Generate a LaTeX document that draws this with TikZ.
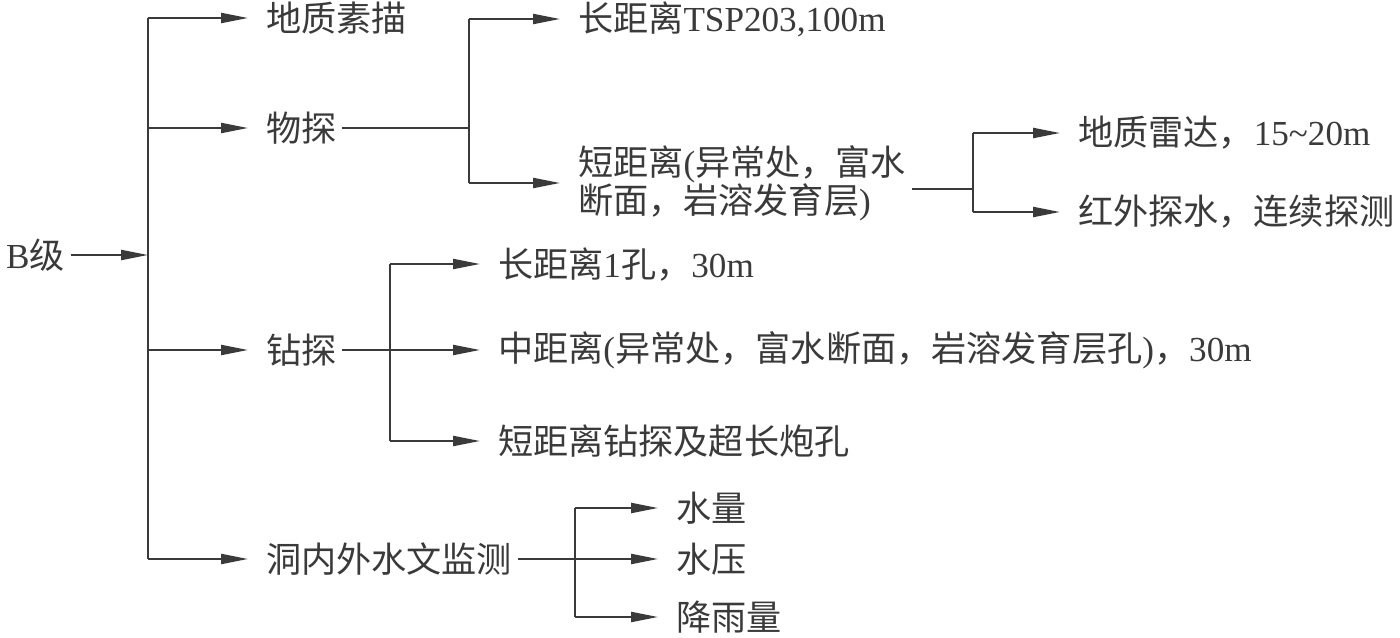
\documentclass[tikz,border=0pt]{standalone}
\usepackage{fontspec}
\setmainfont{Liberation Serif}
\newfontfamily\cjk{Noto Sans CJK SC}
\usepackage{tikz}
\usetikzlibrary{arrows.meta}
\definecolor{ink}{RGB}{58, 58, 58}
\newcommand{\zh}[1]{{\cjk #1}}

\begin{document}
\begin{tikzpicture}[x=1cm, y=-1cm, line width=0.6pt, color=ink,
  box/.style={anchor=west, inner sep=0.5mm, align=left,
    font=\fontsize{10}{10.8}\selectfont},
  tip/.style={-{Triangle[length=2.7mm, width=1mm]}},
  feed/.style={tip, shorten >=1.2mm}]
  \useasboundingbox (0, 0) rectangle (14, 6.38);

  \node[box] (B) at (0, 2.55) {B\zh{级}};

  \node[box] (sketch) at (2.60, 0.18) {\zh{地质素描}};
  \node[box] (geo) at (2.60, 1.28) {\zh{物探}};
  \node[box] (drill) at (2.60, 3.50) {\zh{钻探}};
  \node[box] (water) at (2.60, 5.59) {\zh{洞内外水文监测}};

  \node[box] (tsp) at (5.72, 0.19) {\zh{长距离}TSP203,100m};
  \node[box] (short) at (5.72, 1.83) {\zh{短距离}(\zh{异常处，富水}\\\zh{断面，岩溶发育层})};

  \node[box] (radar) at (10.72, 1.33) {\zh{地质雷达，}15\textasciitilde20m};
  \node[box] (infra) at (10.72, 2.12) {\zh{红外探水，连续探测}};

  \node[box] (hole) at (4.92, 2.64) {\zh{长距离}1\zh{孔，}30m};
  \node[box] (mid) at (4.92, 3.50) {\zh{中距离}(\zh{异常处，富水断面，岩溶发育层孔})\zh{，}30m};
  \node[box] (shortdrill) at (4.92, 4.41) {\zh{短距离钻探及超长炮孔}};

  \node[box] (qty) at (6.70, 5.08) {\zh{水量}};
  \node[box] (press) at (6.70, 5.59) {\zh{水压}};
  \node[box] (rain) at (6.70, 6.17) {\zh{降雨量}};

  \coordinate (hub) at (1.48, 2.55);
  \coordinate (geohub) at (4.69, 1.30);
  \coordinate (shorthub) at (9.73, 1.89);
  \coordinate (drillhub) at (3.90, 3.50);
  \coordinate (waterhub) at (5.75, 5.59);

  \draw[tip] (B) -- (hub);
  \draw (sketch.west -| hub) -- (water.west -| hub);
  \foreach \n in {sketch, geo, drill, water}
    \draw[feed] (\n.west -| hub) -- (\n);

  \draw (geo.east) -- (geo.east -| geohub);
  \draw (tsp.west -| geohub) -- (short.west -| geohub);
  \draw[feed] (tsp.west -| geohub) -- (tsp);
  \draw[feed] (short.west -| geohub) -- (short);

  \draw (short.east |- shorthub) -- (shorthub);
  \draw (radar.west -| shorthub) -- (infra.west -| shorthub);
  \draw[feed] (radar.west -| shorthub) -- (radar);
  \draw[feed] (infra.west -| shorthub) -- (infra);

  \draw (hole.west -| drillhub) -- (shortdrill.west -| drillhub);
  \draw[feed] (drill) -- (mid);
  \draw[feed] (hole.west -| drillhub) -- (hole);
  \draw[feed] (shortdrill.west -| drillhub) -- (shortdrill);

  \draw (qty.west -| waterhub) -- (rain.west -| waterhub);
  \draw[feed] (water) -- (press);
  \draw[feed] (qty.west -| waterhub) -- (qty);
  \draw[feed] (rain.west -| waterhub) -- (rain);
\end{tikzpicture}
\end{document}
